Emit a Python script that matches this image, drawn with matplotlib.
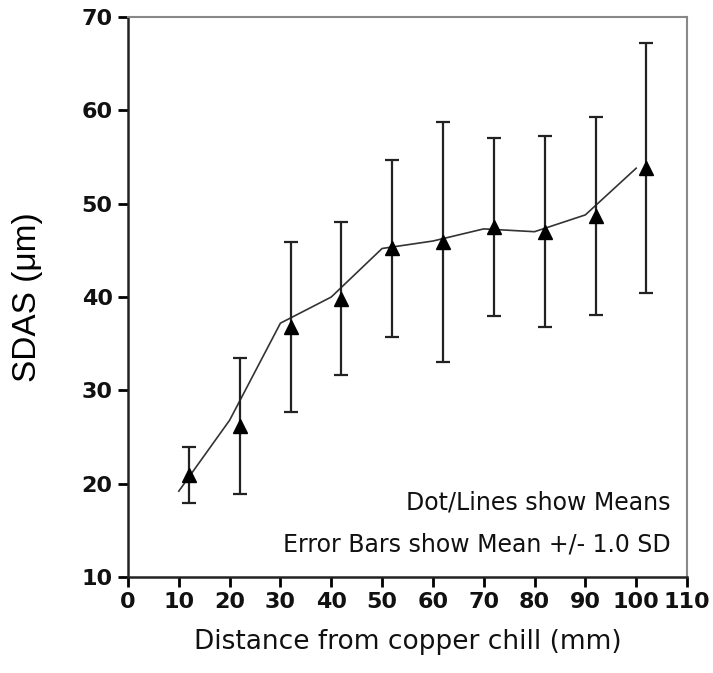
import numpy as np
import matplotlib
matplotlib.use("Agg")
import matplotlib.pyplot as plt

# means and SD (markers sit at 12, 22, ... 102)
dist = [12, 22, 32, 42, 52, 62, 72, 82, 92, 102]
mean_sdas = [20.9, 26.2, 36.8, 39.8, 45.2, 45.9, 47.5, 47.0, 48.7, 53.8]
sd_sdas = [3.0, 7.3, 9.1, 8.2, 9.5, 12.9, 9.5, 10.2, 10.6, 13.4]

# connecting line of the means (drawn at 10, 20, ... 100)
line_x = [10, 20, 30, 40, 50, 60, 70, 80, 90, 100]
line_y = [19.2, 26.8, 37.2, 40.0, 45.2, 46.0, 47.3, 47.0, 48.8, 53.8]

xticks = list(range(0, 111, 10))
yticks = list(range(10, 71, 10))

fig = plt.figure(figsize=(7.13, 6.73), dpi=100)
ax = fig.add_axes([0.1795, 0.1426, 0.7840, 0.8321])

ax.plot(line_x, line_y, color='#333333', lw=1.2, zorder=2)
ax.errorbar(dist, mean_sdas, yerr=sd_sdas, fmt='none', ecolor='#222222',
            elinewidth=1.6, capsize=5, capthick=1.6, zorder=3)
ax.plot(dist, mean_sdas, linestyle='none', marker='^', color='black',
        markersize=9.5, zorder=4)

ax.set_xlim(0, 110)
ax.set_ylim(10, 70)
ax.set_xticks(xticks)
ax.set_yticks(yticks)
ax.tick_params(direction='out', length=7, width=2, labelsize=16, pad=4)
for lab in ax.get_xticklabels() + ax.get_yticklabels():
    lab.set_fontweight('bold')
    lab.set_color('#111111')

for s in ['left', 'bottom']:
    ax.spines[s].set_linewidth(1.8)
    ax.spines[s].set_color('#222222')
for s in ['top', 'right']:
    ax.spines[s].set_linewidth(1.5)
    ax.spines[s].set_color('#888888')

ax.set_xlabel('Distance from copper chill (mm)', fontsize=19, labelpad=12,
              color='#111111')
ax.set_ylabel('SDAS (\u03bcm)', fontsize=24, family='Liberation Sans')
ax.yaxis.set_label_coords(-0.179, 0.5)
ax.yaxis.label.set_va('center')

ax.text(0.97, 0.12, 'Dot/Lines show Means', transform=ax.transAxes,
        ha='right', va='baseline', fontsize=17, color='#111111')
ax.text(0.97, 0.045, 'Error Bars show Mean +/- 1.0 SD', transform=ax.transAxes,
        ha='right', va='baseline', fontsize=17, color='#111111')

fig.savefig('out.png', dpi=100)
